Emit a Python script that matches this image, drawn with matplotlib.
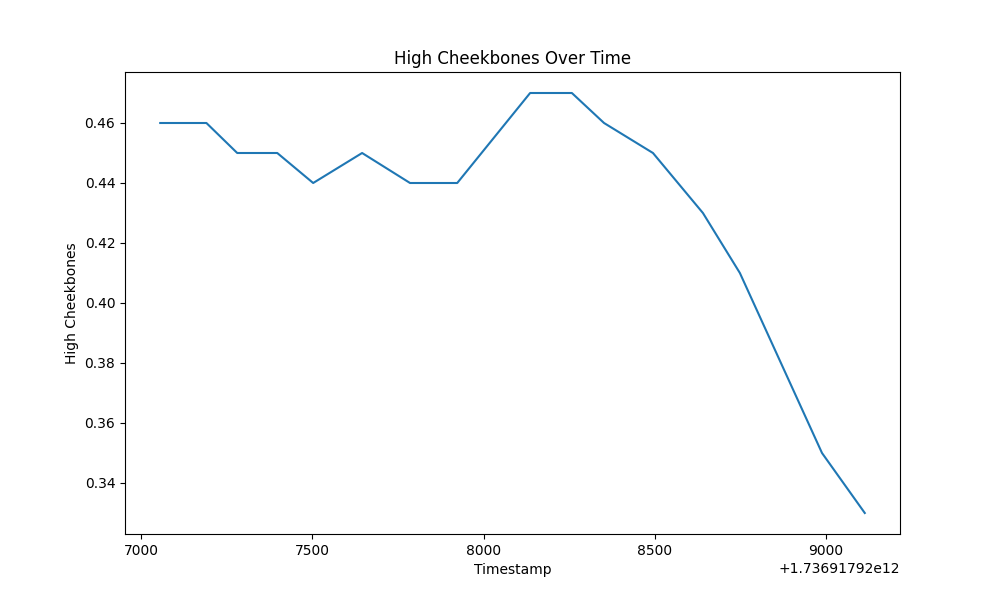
import matplotlib
matplotlib.use("Agg")
import matplotlib.pyplot as plt
import numpy as np

# Timestamps (ms) relative to the axis offset, and values
base = 1.73691792e12
ts_rel = [7055, 7190, 7280, 7397, 7502, 7645, 7785, 7923, 8136, 8258,
          8352, 8495, 8641, 8749, 8989, 9114]
high_cheekbones = [0.46, 0.46, 0.45, 0.45, 0.44, 0.45, 0.44, 0.44, 0.47, 0.47,
                   0.46, 0.45, 0.43, 0.41, 0.35, 0.33]

timestamps = np.array(ts_rel, dtype=float) + base

fig, ax = plt.subplots(figsize=(10, 6), dpi=100)
ax.plot(timestamps, high_cheekbones)
ax.set_title("High Cheekbones Over Time")
ax.set_xlabel("Timestamp")
ax.set_ylabel("High Cheekbones")

plt.savefig("out.png")
